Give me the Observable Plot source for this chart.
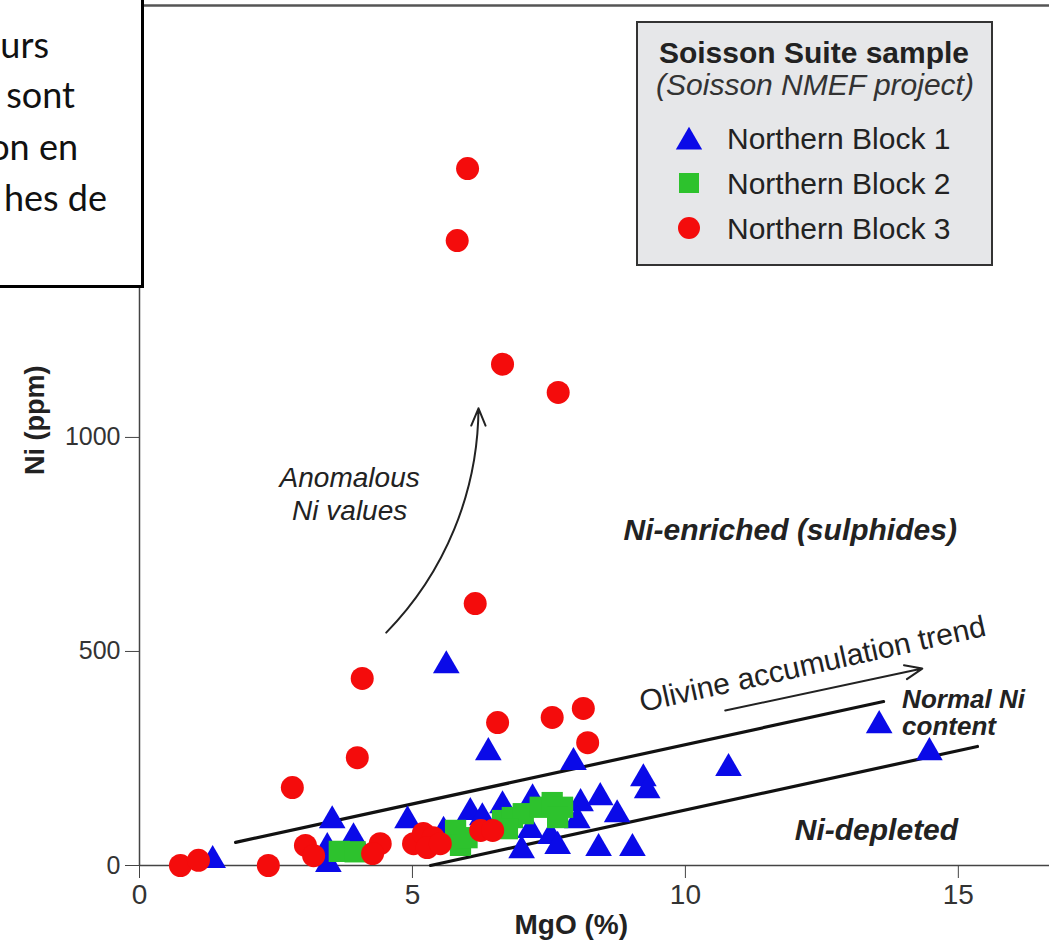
<!DOCTYPE html>
<html><head><meta charset="utf-8">
<script src="https://cdn.jsdelivr.net/npm/d3@7"></script>
<script src="https://cdn.jsdelivr.net/npm/@observablehq/plot@0.6"></script>
<style>
body{margin:0;background:#fff;}
#wrap{position:relative;width:1049px;height:949px;overflow:hidden;background:#fff;}
#overlay{position:absolute;left:0;top:0;pointer-events:none;}
</style></head><body><div id="wrap"></div>
<script>
// ---- data (MgO %, Ni ppm) ----
const seriesNames = ["Northern Block 1", "Northern Block 2", "Northern Block 3"];
const block1MgO = [1.34,3.53,3.92,3.44,3.46,4.91,5.57,5.62,6.39,6.06,6.28,6.65,7.20,7.16,7.53,7.66,7.00,7.95,8.08,8.02,8.44,8.75,8.41,9.03,9.23,9.30,10.79,13.55,14.47];
const block1Ni  = [12,105,65,42,3,105,80,467,264,124,112,140,156,82,68,45,35,241,145,105,159,119,40,40,203,175,227,327,264];
const block2MgO = [3.66,3.95,5.79,5.88,6.00,6.65,6.83,7.03,7.34,7.56,7.75,7.66,6.74];
const block2Ni  = [33,32,82,47,65,105,112,121,136,147,136,112,86];
const block3MgO = [6.01,5.82,6.65,7.67,6.15,4.08,3.99,6.56,7.56,8.13,8.21,2.80,0.75,1.08,2.36,3.04,3.19,4.41,4.27,5.02,5.20,5.38,5.27,5.51,6.25,6.47];
const block3Ni  = [1628,1460,1171,1105,612,437,252,334,346,367,287,182,0,12,0,47,23,51,28,51,75,65,42,51,82,82];
// trend lines bounding the "normal Ni" field
const upperTrendMgO = [1.76, 13.63];
const upperTrendNi  = [54, 383];
const lowerTrendMgO = [5.33, 15.35];
const lowerTrendNi  = [0, 278];
// tick labels
const xTicks = [0, 5, 10, 15];
const yTicks = [0, 500, 1000];
const xDomain = [0, 16.67];
const yDomain = [0, 2009];
// legend / text box texts
const legendTitle = "Soisson Suite sample";
const legendSubtitle = "(Soisson NMEF project)";
const boxLines = ["urs", "sont", "on en", "hes de"];

const rows = (xs, ys) => xs.map((x, i) => ({x, y: ys[i]}));
const b1 = rows(block1MgO, block1Ni), b2 = rows(block2MgO, block2Ni), b3 = rows(block3MgO, block3Ni);
const up = rows(upperTrendMgO, upperTrendNi), lo = rows(lowerTrendMgO, lowerTrendNi);

const BLUE = "#0a0ae8", GREEN = "#2dc22d", RED = "#f40c0c";
const FONT = "'Liberation Sans', Arial, Helvetica, sans-serif";

const chart = Plot.plot({
  width: 1049, height: 949,
  marginLeft: 139, marginRight: 0, marginTop: 5, marginBottom: 84,
  x: {domain: xDomain},
  y: {domain: yDomain},
  style: {fontFamily: FONT, background: "white", overflow: "visible"},
  marks: [
    Plot.ruleY([yDomain[1]], {stroke: "#555", strokeWidth: 2.5}),
    Plot.axisX({ticks: xTicks, tickSize: 13, tickPadding: 6, fontSize: 28, label: null, stroke: "#444", fill: "#333"}),
    Plot.axisY({ticks: yTicks, tickSize: 14, tickPadding: 5, fontSize: 25, tickFormat: d3.format("d"), label: null, stroke: "#444", fill: "#333"}),
    Plot.ruleX([0], {stroke: "#444", strokeWidth: 1.5}),
    Plot.ruleY([0], {stroke: "#444", strokeWidth: 1.5}),
    Plot.line(up, {x: "x", y: "y", stroke: "#111", strokeWidth: 3.2}),
    Plot.line(lo, {x: "x", y: "y", stroke: "#111", strokeWidth: 3.2}),
    Plot.dot(b1, {x: "x", y: "y", symbol: "triangle", r: 9.9, fill: BLUE, stroke: "none"}),
    Plot.dot(b2, {x: "x", y: "y", symbol: "square", r: 12, fill: GREEN, stroke: "none"}),
    Plot.dot(b3, {x: "x", y: "y", symbol: "circle", r: 11.5, fill: RED, stroke: "none"}),
    // annotations
    Plot.arrow([{x1: 4.52, y1: 544, x2: 6.21, y2: 1068}], {x1: "x1", y1: "y1", x2: "x2", y2: "y2", bend: -22, stroke: "#222", strokeWidth: 2, headLength: 14, headAngle: 45}),
    Plot.arrow([{x1: 10.73, y1: 362, x2: 14.34, y2: 460}], {x1: "x1", y1: "y1", x2: "x2", y2: "y2", stroke: "#222", strokeWidth: 2, headLength: 14, headAngle: 45}),
    Plot.text([{x: 3.85, y: 871, t: "Anomalous\nNi values"}], {x: "x", y: "y", text: "t", fontSize: 28, fontStyle: "italic", fill: "#222", lineHeight: 1.18}),
    Plot.text([{x: 12.33, y: 470, t: "Olivine accumulation trend"}], {x: "x", y: "y", text: "t", fontSize: 30, rotate: -12.5, fill: "#222"}),
    Plot.text([{x: 11.92, y: 783, t: "Ni-enriched (sulphides)"}], {x: "x", y: "y", text: "t", fontSize: 30, fontStyle: "italic", fontWeight: "bold", fill: "#222"}),
    Plot.text([{x: 13.97, y: 387, t: "Normal Ni"}], {x: "x", y: "y", text: "t", textAnchor: "start", fontSize: 26, fontStyle: "italic", fontWeight: "bold", fill: "#222"}),
    Plot.text([{x: 13.97, y: 324, t: "content"}], {x: "x", y: "y", text: "t", textAnchor: "start", fontSize: 26, fontStyle: "italic", fontWeight: "bold", fill: "#222"}),
    Plot.text([{x: 13.5, y: 82, t: "Ni-depleted"}], {x: "x", y: "y", text: "t", fontSize: 30, fontStyle: "italic", fontWeight: "bold", fill: "#222"}),
    // axis titles
    Plot.text([{x: 7.91, t: "MgO (%)"}], {x: "x", text: "t", frameAnchor: "bottom", lineAnchor: "middle", dy: 60, fontSize: 28, fontWeight: "bold", fill: "#222"}),
    Plot.text([{y: 1040, t: "Ni (ppm)"}], {y: "y", text: "t", frameAnchor: "left", textAnchor: "middle", lineAnchor: "middle", dx: -104, rotate: -90, fontSize: 27, fontWeight: "bold", fill: "#222"})
  ]
});
const wrap = document.getElementById("wrap");
wrap.appendChild(chart);

// overlay: legend box + cropped text box
const ov = d3.select(wrap).append("svg").attr("id", "overlay")
  .attr("width", 1049).attr("height", 949).style("font-family", FONT);

const lg = ov.append("g");
lg.append("rect").attr("x", 637).attr("y", 22).attr("width", 355).attr("height", 243)
  .attr("fill", "#e6e7e9").attr("stroke", "#333").attr("stroke-width", 2);
lg.append("text").attr("x", 814).attr("y", 63).attr("text-anchor", "middle")
  .attr("font-size", 30).attr("font-weight", "bold").attr("fill", "#222").text(legendTitle);
lg.append("text").attr("x", 815).attr("y", 95).attr("text-anchor", "middle")
  .attr("font-size", 30).attr("font-style", "italic").attr("fill", "#333").text(legendSubtitle);
const symTypes = [d3.symbolTriangle, d3.symbolSquare, d3.symbolCircle];
const symSizes = [300, 400, 380];
const symColors = [BLUE, GREEN, RED];
seriesNames.forEach((name, i) => {
  const cy = [142, 183, 228][i];
  lg.append("path").attr("transform", `translate(689,${cy})`)
    .attr("d", d3.symbol().type(symTypes[i]).size(symSizes[i])()).attr("fill", symColors[i]);
  lg.append("text").attr("x", 727).attr("y", [149, 194, 239][i])
    .attr("font-size", 30).attr("fill", "#222").text(name);
});

const tb = ov.append("g").style("font-family", "Lato, 'Open Sans', sans-serif");
tb.append("rect").attr("x", -20).attr("y", -20).attr("width", 162.5).attr("height", 306.5)
  .attr("fill", "white").attr("stroke", "#000").attr("stroke-width", 3);
const ends = [49, 75, 78, 107], bases = [58, 108, 160, 211];
boxLines.forEach((t, i) => {
  tb.append("text").attr("x", ends[i]).attr("y", bases[i]).attr("text-anchor", "end")
    .attr("font-size", 36).attr("fill", "#111").text(t);
});
</script></body></html>
